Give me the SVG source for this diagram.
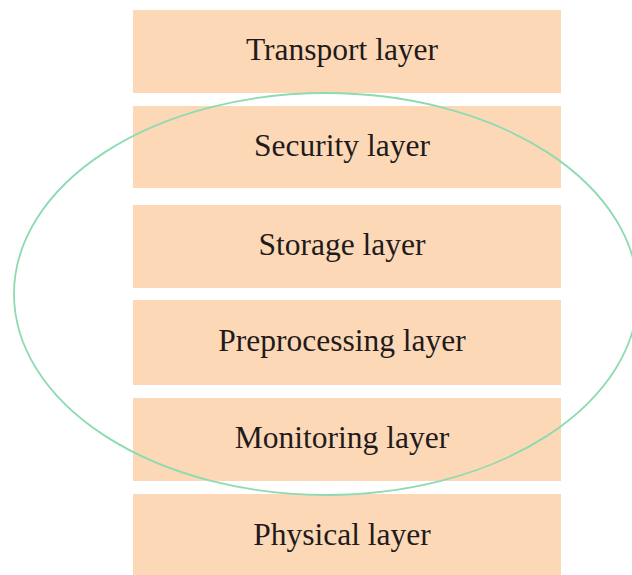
<svg xmlns="http://www.w3.org/2000/svg" width="632" height="575" viewBox="0 0 632 575">
<style>
.box{fill:#fdd8b6;}
.lbl{font-family:"Liberation Serif","DejaVu Serif",serif;font-size:31.5px;fill:#1f1b1c;text-anchor:middle;}
.ring{fill:none;stroke:#8ddbb2;stroke-width:1.8;}
</style>
<rect width="632" height="575" fill="#ffffff"/>
<g id="transport"><rect class="box" x="133" y="10" width="428" height="83"/><text class="lbl" x="342" y="60">Transport layer</text></g>
<g id="security"><rect class="box" x="133" y="106" width="428" height="82"/><text class="lbl" x="342" y="156">Security layer</text></g>
<g id="storage"><rect class="box" x="133" y="205" width="428" height="83"/><text class="lbl" x="342" y="255">Storage layer</text></g>
<g id="preprocessing"><rect class="box" x="133" y="300" width="428" height="85"/><text class="lbl" x="342" y="351">Preprocessing layer</text></g>
<g id="monitoring"><rect class="box" x="133" y="398" width="428" height="83"/><text class="lbl" x="342" y="448">Monitoring layer</text></g>
<g id="physical"><rect class="box" x="133" y="494" width="428" height="81"/><text class="lbl" x="342" y="545">Physical layer</text></g>
<g id="connectors">
<ellipse id="group-ring" class="ring" cx="326" cy="294" rx="312" ry="201"/>
</g>
</svg>
